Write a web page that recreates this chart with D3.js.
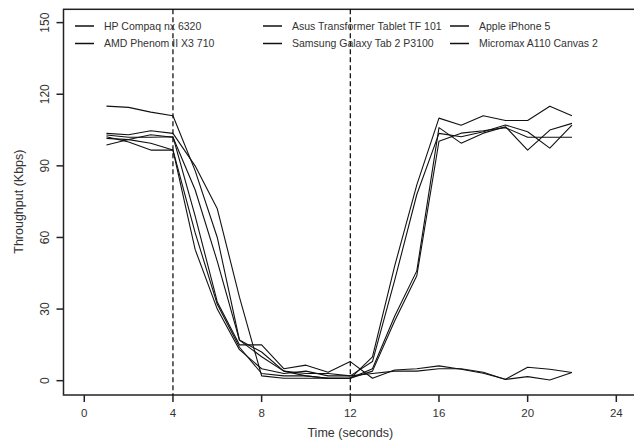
<!DOCTYPE html>
<html>
<head>
<meta charset="utf-8">
<script src="https://cdn.jsdelivr.net/npm/d3@7"></script>
<style>
  body { margin: 0; background: #fff; }
  svg text { font-family: "Liberation Sans", Arial, sans-serif; fill: #333; }
</style>
</head>
<body>
<div id="viz"></div>
<script>
var width = 634,
    height = 444;

// time points (seconds)
var times = [1, 2, 3, 4, 5, 6, 7, 8, 9, 10, 11, 12, 13, 14, 15, 16, 17, 18, 19, 20, 21, 22];

// devices, in legend order
var devices = ["HP Compaq nx 6320", "AMD Phenom II X3 710", "Asus Transformer Tablet TF 101",
    "Samsung Galaxy Tab 2 P3100", "Apple iPhone 5", "Micromax A110 Canvas 2"];

// throughput (Kbps) per device
var hpCompaq  = [115, 114.5, 112.5, 111, 88, 60, 17, 12, 4, 2, 1, 1, 10, 48, 82, 110, 107, 111, 109, 109, 115, 111];
var amdPhenom = [103.6, 103, 104.7, 103.6, 90, 72, 35, 2, 1, 1, 1, 1, 5, 27, 46, 106, 99.5, 103.7, 106.4, 96.6, 105, 107.8];
var asusTF    = [102.9, 102, 102, 102.2, 69, 33, 15, 15, 5, 6.5, 3.5, 8, 1, 4.5, 5, 6.2, 4.8, 3.1, 0.6, 5.6, 4.8, 3.4];
var samsungGT = [101.5, 101, 99.5, 96.6, 55, 30, 13, 5, 3, 4, 2, 2, 3, 4, 4, 5, 5, 3.5, 0.5, 1.7, 0.3, 3.4];
var iphone5   = [98.7, 101, 103, 102, 80, 50, 17, 10, 4, 3, 3, 2, 8, 42, 78, 103.6, 102.2, 104.3, 107.1, 104.3, 97.4, 107.1];
var micromax  = [102.2, 100, 96.6, 96.6, 62, 32, 14, 3, 2, 2, 1, 1, 4, 25, 44, 100.3, 103.7, 104.7, 106, 102, 102, 102];

var series = [hpCompaq, amdPhenom, asusTF, samsungGT, iphone5, micromax];

// dashed markers on the time axis
var markers = [4, 12];

var xTicks = [0, 4, 8, 12, 16, 20, 24];
var yTicks = [0, 30, 60, 90, 120, 150];

var svg = d3.select("#viz").append("svg")
    .attr("width", width)
    .attr("height", height);

// R style: 4% padding round xlim=c(0,24), ylim=c(0,150)
var x = d3.scaleLinear().domain([-0.96, 24.96]).range([63, 637.6]);
var y = d3.scaleLinear().domain([-6, 156]).range([395, 8.3]);

// plot box
svg.append("rect")
    .attr("x", x.range()[0] + 0.5)
    .attr("y", y.range()[1] + 1)
    .attr("width", x.range()[1] - x.range()[0])
    .attr("height", y.range()[0] - y.range()[1] - 1)
    .attr("fill", "none")
    .attr("stroke", "#222")
    .attr("stroke-width", 1.5);

// x axis ticks
var xAxis = svg.append("g").attr("class", "x-axis");
xAxis.selectAll("line")
    .data(xTicks)
    .enter().append("line")
    .attr("x1", function(d) { return x(d); })
    .attr("x2", function(d) { return x(d); })
    .attr("y1", y.range()[0])
    .attr("y2", y.range()[0] + 7)
    .attr("stroke", "#222")
    .attr("stroke-width", 1.5);
xAxis.selectAll("text")
    .data(xTicks)
    .enter().append("text")
    .attr("x", function(d) { return x(d); })
    .attr("y", 417)
    .attr("text-anchor", "middle")
    .attr("font-size", 11.5)
    .text(function(d) { return d; });

// y axis ticks
var yAxis = svg.append("g").attr("class", "y-axis");
yAxis.selectAll("line")
    .data(yTicks)
    .enter().append("line")
    .attr("x1", x.range()[0] + 0.5)
    .attr("x2", x.range()[0] - 6.5)
    .attr("y1", function(d) { return y(d); })
    .attr("y2", function(d) { return y(d); })
    .attr("stroke", "#222")
    .attr("stroke-width", 1.5);
yAxis.selectAll("text")
    .data(yTicks)
    .enter().append("text")
    .attr("transform", function(d) { return "translate(49," + y(d) + ") rotate(-90)"; })
    .attr("text-anchor", "middle")
    .attr("font-size", 12)
    .text(function(d) { return d; });

// axis titles
svg.append("text")
    .attr("x", (x.range()[0] + x.range()[1]) / 2)
    .attr("y", 437)
    .attr("text-anchor", "middle")
    .attr("font-size", 12.5)
    .text("Time (seconds)");

svg.append("text")
    .attr("transform", "translate(23," + ((y.range()[0] + y.range()[1]) / 2) + ") rotate(-90)")
    .attr("text-anchor", "middle")
    .attr("font-size", 12.5)
    .text("Throughput (Kbps)");

// dashed verticals
svg.append("g").selectAll("line")
    .data(markers)
    .enter().append("line")
    .attr("x1", function(d) { return x(d); })
    .attr("x2", function(d) { return x(d); })
    .attr("y1", y.range()[1] + 1)
    .attr("y2", y.range()[0])
    .attr("stroke", "#000")
    .attr("stroke-width", 1.2)
    .attr("stroke-dasharray", "5,3");

// throughput lines
var line = d3.line()
    .x(function(d, i) { return x(times[i]); })
    .y(function(d) { return y(d); });

svg.append("g").attr("class", "lines")
    .selectAll("path")
    .data(series)
    .enter().append("path")
    .attr("d", line)
    .attr("fill", "none")
    .attr("stroke", "#111")
    .attr("stroke-width", 1.1)
    .attr("stroke-linejoin", "round");

// legend, 3 columns filled column-wise, no box
var legendCols = [75, 263, 450];
var legendRows = [26, 43.5];

var legend = svg.append("g").attr("class", "legend")
    .selectAll("g")
    .data(devices)
    .enter().append("g")
    .attr("transform", function(d, i) {
        return "translate(" + legendCols[Math.floor(i / 2)] + "," + legendRows[i % 2] + ")";
    });

legend.append("line")
    .attr("x1", 0)
    .attr("x2", 19)
    .attr("stroke", "#111")
    .attr("stroke-width", 1.5);

legend.append("text")
    .attr("x", 29)
    .attr("y", 3.8)
    .attr("font-size", 10.5)
    .text(function(d) { return d; });
</script>
</body>
</html>
